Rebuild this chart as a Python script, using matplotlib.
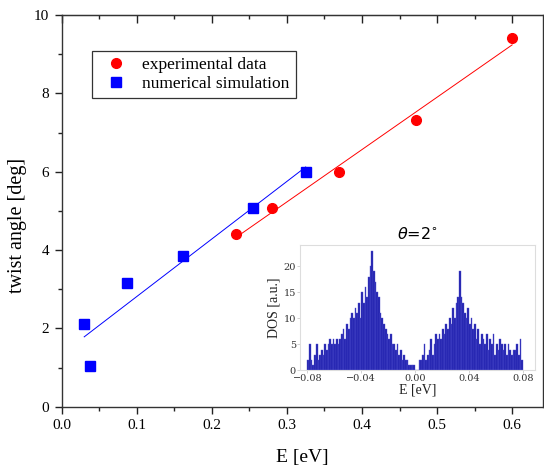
import numpy as np
import matplotlib
matplotlib.use("Agg")
import matplotlib.pyplot as plt
from matplotlib.ticker import MultipleLocator

# ---------------- data ----------------
exp_E = [0.232, 0.280, 0.370, 0.472, 0.600]
exp_angle = [4.40, 5.08, 5.98, 7.33, 9.42]

sim_E = [0.030, 0.038, 0.087, 0.162, 0.255, 0.325]
sim_angle = [2.12, 1.05, 3.15, 3.85, 5.07, 6.00]

legend_labels = ["experimental data", "numerical simulation"]

# DOS histogram (inset), bins from -0.08 to 0.08
dos_edges_range = (-0.08, 0.08)
dos_counts = [2, 5, 2, 1, 3, 5, 2, 3, 4, 3, 5, 4, 5, 6, 5, 6, 5, 6, 5, 6,
              7, 8, 6, 9, 8, 10, 11, 10, 12, 11, 13, 10, 15, 13, 16, 14, 18, 20, 23, 19,
              17, 15, 14, 11, 10, 9, 8, 7, 6, 7, 5, 5, 4, 5, 3, 4, 2, 3, 2, 2,
              1, 1, 1, 1, 0, 0, 2, 2, 3, 5, 2, 3, 4, 6, 3, 5, 7, 6, 7, 6,
              8, 7, 9, 8, 10, 9, 12, 10, 13, 14, 19, 14, 13, 11, 10, 12, 9, 10, 8, 9,
              6, 8, 5, 7, 6, 5, 7, 4, 6, 5, 7, 3, 5, 4, 6, 5, 4, 5, 3, 5,
              4, 3, 4, 4, 5, 3, 6, 2]

main_xticks = [0.0, 0.1, 0.2, 0.3, 0.4, 0.5, 0.6]
main_yticks = [0, 2, 4, 6, 8, 10]
inset_xticks = [-0.08, -0.04, 0.0, 0.04, 0.08]
inset_yticks = [0, 5, 10, 15, 20]

# ---------------- figure ----------------
fig = plt.figure(figsize=(5.44, 4.70), dpi=100)
serif = ["Liberation Serif", "DejaVu Serif"]

ax = fig.add_axes([0.1134, 0.1347, 0.8846, 0.8333])

ax.plot(exp_E, exp_angle, 'o', color='#ff0000', markersize=7, zorder=3,
        label=legend_labels[0])
ax.plot(sim_E, sim_angle, 's', color='#0000ff', markersize=6.5, zorder=3,
        label=legend_labels[1])

# linear fits
for xs, ys, col in [(exp_E, exp_angle, '#ff0000'), (sim_E, sim_angle, '#0000ff')]:
    p = np.polyfit(xs, ys, 1)
    xx = np.array([min(xs), max(xs)])
    ax.plot(xx, np.polyval(p, xx), '-', color=col, lw=0.7, zorder=2)

ax.set_xlim(0, 0.641)
ax.set_ylim(0, 10)
ax.set_xticks(main_xticks)
ax.set_yticks(main_yticks)
ax.set_xticklabels([f"{v:.1f}" for v in main_xticks], fontfamily=serif, fontsize=11)
ax.set_yticklabels([str(v) for v in main_yticks], fontfamily=serif, fontsize=11)
ax.xaxis.set_minor_locator(MultipleLocator(0.05))
ax.yaxis.set_minor_locator(MultipleLocator(1))
ax.tick_params(which='both', direction='out', top=False, right=False, color='#222222')
ax.tick_params(which='major', length=5, width=1, pad=4)
ax.tick_params(which='minor', length=3, width=1)
for s in ax.spines.values():
    s.set_color('#333333')
    s.set_linewidth(1.0)

# mirrored top ticks pointing inward
axt = ax.secondary_xaxis('top')
axt.set_xticks(main_xticks)
axt.xaxis.set_minor_locator(MultipleLocator(0.05))
axt.tick_params(which='both', direction='in', labeltop=False, color='#222222')
axt.tick_params(which='major', length=6, width=1)
axt.tick_params(which='minor', length=3, width=1)
axt.spines['top'].set_color('#333333')

ax.set_xlabel("E [eV]", fontfamily=serif, fontsize=14, labelpad=12)
ax.set_ylabel("twist angle [deg]", fontfamily=serif, fontsize=14.5)
ax.yaxis.set_label_coords(-0.072, 0.464)

leg = ax.legend(loc='upper left', bbox_to_anchor=(0.170, 0.891),
                bbox_transform=fig.transFigure, borderaxespad=0,
                prop={'family': serif, 'size': 12.5}, fancybox=False,
                framealpha=1, edgecolor='#333333', handletextpad=0.48,
                borderpad=0.35, labelspacing=0.15, handlelength=2.05)
leg.get_frame().set_linewidth(0.9)

# ---------------- inset ----------------
axi = fig.add_axes([0.5515, 0.2121, 0.432, 0.2667])
edges = np.linspace(dos_edges_range[0], dos_edges_range[1], len(dos_counts) + 1)
axi.bar(edges[:-1], dos_counts, width=np.diff(edges), align='edge',
        color='#1515a8', edgecolor='#5050d0', linewidth=0.3, alpha=0.95)
axi.set_xlim(-0.0855, 0.089)
axi.set_ylim(0, 24.1)
axi.set_xticks(inset_xticks)
axi.set_yticks(inset_yticks)
axi.set_xticklabels(["\u22120.08", "\u22120.04", "0.00", "0.04", "0.08"],
                    fontfamily="DejaVu Serif", fontsize=7, color='#333333')
axi.set_yticklabels([str(v) for v in inset_yticks],
                    fontfamily="DejaVu Serif", fontsize=7, color='#333333')
axi.tick_params(length=2, width=0.6, color='#cccccc', pad=1)
for s in axi.spines.values():
    s.set_color('#dddddd')
    s.set_linewidth(0.8)
axi.set_xlabel("E [eV]", fontfamily=serif, fontsize=10, labelpad=0, color='#222222')
axi.set_ylabel("DOS [a.u.]", fontfamily=serif, fontsize=10, labelpad=2, color='#222222')
axi.set_title(r"$\theta$=2$^{\circ}$", fontsize=11.5, pad=4)

fig.savefig("out.png", dpi=100)
